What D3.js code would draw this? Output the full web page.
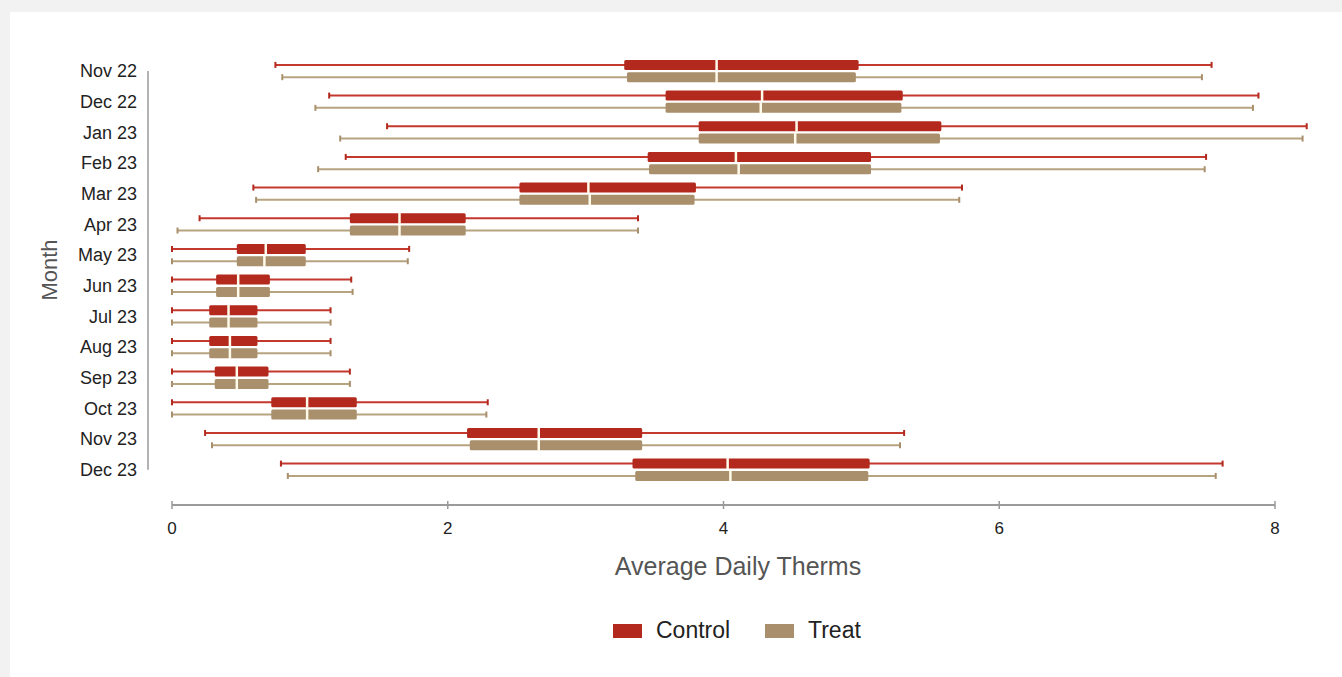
<!DOCTYPE html>
<html>
<head>
<meta charset="utf-8">
<script src="https://cdn.jsdelivr.net/npm/d3@7"></script>
<style>
  html, body { margin: 0; padding: 0; background: #f2f2f2; }
  svg { display: block; }
  text { font-family: "Liberation Sans", Arial, sans-serif; }
</style>
</head>
<body>
<svg id="chart" width="1342" height="677"></svg>
<script>
// Monthly distribution of average daily therms, Control vs Treat
const months = ["Nov 22", "Dec 22", "Jan 23", "Feb 23", "Mar 23", "Apr 23", "May 23",
                "Jun 23", "Jul 23", "Aug 23", "Sep 23", "Oct 23", "Nov 23", "Dec 23"];
const groups = ["Control", "Treat"];
const xTicks = [0, 2, 4, 6, 8];

const controlMin    = [0.75, 1.14, 1.56, 1.26, 0.59, 0.20, 0.00, 0.00, 0.00, 0.00, 0.00, 0.00, 0.24, 0.79];
const controlQ1     = [3.28, 3.58, 3.82, 3.45, 2.52, 1.29, 0.47, 0.32, 0.27, 0.27, 0.31, 0.72, 2.14, 3.34];
const controlMedian = [3.95, 4.28, 4.53, 4.09, 3.02, 1.65, 0.68, 0.48, 0.41, 0.42, 0.47, 0.98, 2.66, 4.03];
const controlQ3     = [4.98, 5.30, 5.58, 5.07, 3.80, 2.13, 0.97, 0.71, 0.62, 0.62, 0.70, 1.34, 3.41, 5.06];
const controlMax    = [7.54, 7.88, 8.23, 7.50, 5.73, 3.38, 1.72, 1.30, 1.15, 1.15, 1.29, 2.29, 5.31, 7.62];

const treatMin      = [0.80, 1.04, 1.22, 1.06, 0.61, 0.04, 0.00, 0.00, 0.00, 0.00, 0.00, 0.00, 0.29, 0.84];
const treatQ1       = [3.30, 3.58, 3.82, 3.46, 2.52, 1.29, 0.47, 0.32, 0.27, 0.27, 0.31, 0.72, 2.16, 3.36];
const treatMedian   = [3.95, 4.27, 4.52, 4.11, 3.03, 1.65, 0.67, 0.48, 0.41, 0.42, 0.47, 0.98, 2.66, 4.05];
const treatQ3       = [4.96, 5.29, 5.57, 5.07, 3.79, 2.13, 0.97, 0.71, 0.62, 0.62, 0.70, 1.34, 3.41, 5.05];
const treatMax      = [7.47, 7.84, 8.20, 7.49, 5.71, 3.38, 1.71, 1.31, 1.15, 1.15, 1.29, 2.28, 5.28, 7.57];

const boxColor = { Control: "#b3291d", Treat: "#a98f6b" };
const lineColor = { Control: "#c4392e", Treat: "#b8a381" };

// Build the row records used by the marks
const rows = [];
months.forEach((m, i) => {
  rows.push({ month: m, group: "Control", min: controlMin[i], q1: controlQ1[i],
              median: controlMedian[i], q3: controlQ3[i], max: controlMax[i] });
  rows.push({ month: m, group: "Treat", min: treatMin[i], q1: treatQ1[i],
              median: treatMedian[i], q3: treatQ3[i], max: treatMax[i] });
});

const svg = d3.select("#chart");

// white panel
svg.append("rect").attr("x", 10).attr("y", 12).attr("width", 1332).attr("height", 665)
  .attr("fill", "#ffffff");

const x = d3.scaleLinear().domain([0, 8]).range([172, 1275]);
const y = d3.scaleBand().domain(months).range([55.7, 485.1]).padding(0);
const bw = y.bandwidth();
const yGroup = d3.scaleBand().domain(groups).range([bw / 2 - 12.3, bw / 2 + 12.3]).padding(0);
const cy = d => y(d.month) + yGroup(d.group) + yGroup.bandwidth() / 2;

// Y axis: vertical rule + month labels
svg.append("line")
  .attr("x1", 148).attr("x2", 148)
  .attr("y1", y(months[0]) + bw / 2).attr("y2", y(months[months.length - 1]) + bw / 2)
  .attr("stroke", "#9a9a9a").attr("stroke-width", 1.5);

svg.append("g").selectAll("text").data(months).join("text")
  .attr("x", 137).attr("y", d => y(d) + bw / 2 + 1.5)
  .attr("text-anchor", "end").attr("dominant-baseline", "middle")
  .attr("font-size", 18).attr("fill", "#222")
  .text(d => d);

svg.append("text")
  .attr("transform", "translate(51,270) rotate(-90)")
  .attr("text-anchor", "middle").attr("dominant-baseline", "middle")
  .attr("font-size", 22).attr("fill", "#555")
  .text("Month");

// X axis
const xAxis = svg.append("g").attr("transform", "translate(0,505)");
xAxis.append("line")
  .attr("x1", x(0)).attr("x2", x(8))
  .attr("stroke", "#9a9a9a").attr("stroke-width", 2);
xAxis.selectAll("line.tick").data(xTicks).join("line")
  .attr("class", "tick")
  .attr("x1", d => x(d)).attr("x2", d => x(d))
  .attr("y1", -4).attr("y2", 4)
  .attr("stroke", "#9a9a9a").attr("stroke-width", 1.5);
xAxis.selectAll("text").data(xTicks).join("text")
  .attr("x", d => x(d)).attr("y", 25)
  .attr("text-anchor", "middle").attr("dominant-baseline", "middle")
  .attr("font-size", 17).attr("fill", "#222")
  .text(d => d);

svg.append("text")
  .attr("x", 738).attr("y", 568)
  .attr("text-anchor", "middle").attr("dominant-baseline", "middle")
  .attr("font-size", 25).attr("fill", "#555")
  .text("Average Daily Therms");

// Box plots
const marks = svg.append("g");

// whiskers
marks.selectAll("line.whisker").data(rows).join("line")
  .attr("class", "whisker")
  .attr("x1", d => x(d.min)).attr("x2", d => x(d.max))
  .attr("y1", cy).attr("y2", cy)
  .attr("stroke", d => lineColor[d.group]).attr("stroke-width", 2);

// whisker caps
["min", "max"].forEach(k => {
  marks.selectAll("line.cap-" + k).data(rows).join("line")
    .attr("class", "cap-" + k)
    .attr("x1", d => x(d[k])).attr("x2", d => x(d[k]))
    .attr("y1", d => cy(d) - 3).attr("y2", d => cy(d) + 3)
    .attr("stroke", d => boxColor[d.group]).attr("stroke-width", 2);
});

// boxes
const boxH = 10;
marks.selectAll("rect.box").data(rows).join("rect")
  .attr("class", "box")
  .attr("x", d => x(d.q1)).attr("width", d => x(d.q3) - x(d.q1))
  .attr("y", d => cy(d) - boxH / 2).attr("height", boxH)
  .attr("rx", 1.5)
  .attr("fill", d => boxColor[d.group]);

// medians as a light gap through the box
marks.selectAll("line.median").data(rows).join("line")
  .attr("class", "median")
  .attr("x1", d => x(d.median)).attr("x2", d => x(d.median))
  .attr("y1", d => cy(d) - boxH / 2 - 0.5).attr("y2", d => cy(d) + boxH / 2 + 0.5)
  .attr("stroke", "#fffbea").attr("stroke-width", 2.5);

// Legend
const legend = svg.append("g");
const legendItems = [
  { key: "Control", sx: 613, tx: 656 },
  { key: "Treat", sx: 765, tx: 808 }
];
legend.selectAll("rect").data(legendItems).join("rect")
  .attr("x", d => d.sx).attr("y", 624).attr("width", 29).attr("height", 14)
  .attr("fill", d => boxColor[d.key]);
legend.selectAll("text").data(legendItems).join("text")
  .attr("x", d => d.tx).attr("y", 632)
  .attr("dominant-baseline", "middle")
  .attr("font-size", 23).attr("fill", "#222")
  .text(d => d.key);
</script>
</body>
</html>
